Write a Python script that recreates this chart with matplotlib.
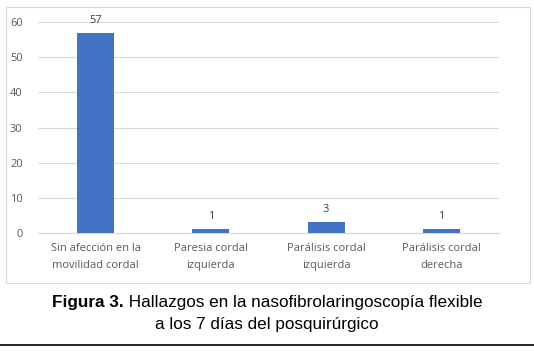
import matplotlib.pyplot as plt
from matplotlib.patches import Rectangle
from matplotlib.lines import Line2D

categorias = ['Sin afección en la\nmovilidad cordal', 'Paresia cordal\nizquierda',
              'Parálisis cordal\nizquierda', 'Parálisis cordal\nderecha']
valores = [57, 1, 3, 1]
yticks = [0, 10, 20, 30, 40, 50, 60]

W, H = 534, 351
fig = plt.figure(figsize=(W/100, H/100), dpi=100)

# marco del grafico
fig.patches.append(Rectangle((6/W, 1-283/H), 524/W, 276/H, transform=fig.transFigure,
                             fill=False, edgecolor='#d9d9d9', linewidth=0.8))

ax = fig.add_axes([38/W, 1-233/H, 461/W, 211/H])
x = range(len(valores))
bars = ax.bar(x, valores, width=0.32, color='#4472c4', zorder=3)
for b, v in zip(bars, valores):
    ax.text(b.get_x()+b.get_width()/2, v+2, str(v), ha='center', va='bottom',
            fontsize=8, color='#404040', family='Open Sans')

ax.set_xlim(-0.5, 3.5)
ax.set_ylim(0, 60)
ax.set_yticks(yticks)
ax.set_xticks(list(x))
ax.set_xticklabels(categorias, fontsize=8, color='#595959', family='Open Sans', linespacing=1.75)
ax.tick_params(axis='y', labelsize=8, labelcolor='#595959', length=0, pad=11)
ax.tick_params(axis='x', length=0, pad=7)
for lab in ax.get_yticklabels():
    lab.set_family('Open Sans')
ax.grid(axis='y', color='#d9d9d9', linewidth=0.8, zorder=0)
for s in ['top', 'right', 'left']:
    ax.spines[s].set_visible(False)
ax.spines['bottom'].set_color('#d9d9d9')

# pie de figura
fs = 12.3
t1 = fig.text(0, 1-302/H, 'Figura 3.', ha='left', va='center', fontsize=fs,
              fontweight='bold', family='Liberation Sans')
t2 = fig.text(0, 1-302/H, ' Hallazgos en la nasofibrolaringoscopía flexible', ha='left',
              va='center', fontsize=fs, family='Liberation Sans')
fig.canvas.draw()
w1 = t1.get_window_extent().width
w2 = t2.get_window_extent().width
x0 = (W - w1 - w2) / 2
t1.set_x(x0/W)
t2.set_x((x0 + w1)/W)
fig.text(0.5, 1-325/H, 'a los 7 días del posquirúrgico', ha='center', va='center',
         fontsize=fs, family='Liberation Sans')

fig.lines.append(Line2D([0, 1], [1-345/H, 1-345/H], transform=fig.transFigure,
                        color='black', linewidth=1.2))

fig.savefig('out.png', dpi=100)
